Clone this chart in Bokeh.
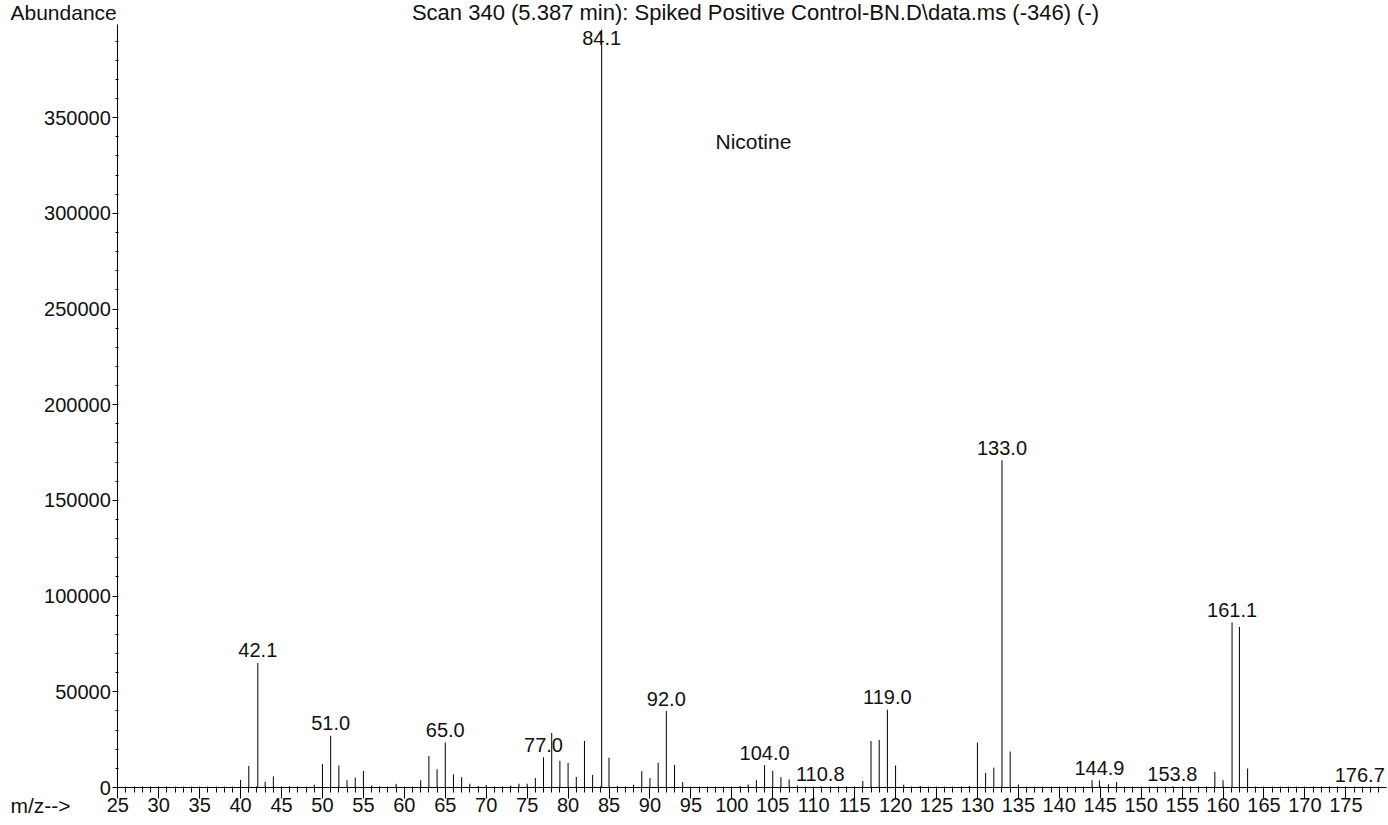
import numpy as np
from bokeh.plotting import figure
from bokeh.models import (ColumnDataSource, SingleIntervalTicker, Label, Range1d,
                          BasicTickFormatter, LinearAxis)
from bokeh.core.properties import value
from bokeh.embed import file_html
from bokeh.resources import INLINE

# ---------------- data ----------------
mz = [40, 41, 42.1, 43, 44, 46, 49, 50, 51.0, 52, 53, 54, 55, 56, 57, 59,
      62, 63, 64, 65.0, 66, 67, 68, 69, 70, 73, 74, 75, 76, 77.0, 78, 79, 80,
      81, 82, 83, 84.1, 85, 86, 88, 89, 90, 91, 92.0, 93, 94, 101, 102, 103,
      104.0, 105, 106, 107, 108, 110.8, 116, 117, 118, 119.0, 120, 121, 123,
      129, 130, 131, 132, 133.0, 134, 135, 144, 144.9, 146, 147, 153.8, 159,
      160, 161.1, 162, 163, 176.7]
abundance = [4000, 11300, 65100, 3000, 5800, 600, 1500, 12200, 27000, 11500,
             3800, 5200, 8700, 1000, 500, 1900, 3800, 16500, 9600, 23500, 6900,
             5400, 2000, 700, 1300, 1000, 2000, 2000, 5000, 15800, 28500, 14000,
             12800, 5500, 24300, 6600, 396000, 15600, 700, 1500, 8500, 4900,
             12900, 40000, 11800, 2800, 800, 1600, 3800, 11700, 8700, 5400, 4200,
             1000, 500, 3400, 24300, 24900, 40700, 11500, 1500, 700, 800, 23500,
             7600, 10400, 171000, 18800, 1600, 3800, 3700, 1700, 2900, 500, 8200,
             3800, 86200, 83900, 9900, 300]
labeled_mz = [42.1, 51.0, 65.0, 77.0, 84.1, 92.0, 104.0, 110.8, 119.0, 133.0,
              144.9, 153.8, 161.1, 176.7]
title_text = "Scan 340 (5.387 min): Spiked Positive Control-BN.D\\data.ms (-346) (-)"
compound_name = "Nicotine"
y_title = "Abundance"
x_title = "m/z-->"
x_axis_bounds = (25, 179.99)
y_axis_top = 398700

# ---------------- layout (pixel <-> data helpers) ----------------
W, H = 1388, 825
PX_X0, PX_PER_X = 117.3, 8.187        # pixel of m/z 25, pixels per m/z unit
PX_Y0, PX_PER_Y = 787.0, 95.7 / 50000  # pixel of 0 abundance, pixels per count
BASE_FIX = 8                           # baseline correction (px)


def dx(px):
    return 25 + (px - PX_X0) / PX_PER_X


def dy(py):
    return (PX_Y0 - py) / PX_PER_Y


def dyt(py):  # y for a text whose baseline should sit at pixel py
    return dy(py - BASE_FIX)


FONT = "Liberation Sans"
FS = "20px"
TXT = "#111111"

p = figure(width=W, height=H, x_range=Range1d(dx(0), dx(W)),
           y_range=Range1d(dy(H), dy(0)), output_backend="svg",
           toolbar_location=None, title=None, x_axis_location=None,
           y_axis_location=None, min_border=0)
p.min_border_left = p.min_border_right = p.min_border_top = p.min_border_bottom = 0
p.outline_line_color = None
p.xgrid.visible = False
p.ygrid.visible = False
p.background_fill_color = "white"
p.border_fill_color = "white"

xax = LinearAxis(fixed_location=0, bounds=x_axis_bounds,
                 ticker=SingleIntervalTicker(interval=5, num_minor_ticks=5))
yax = LinearAxis(fixed_location=25, bounds=(0, y_axis_top),
                 ticker=SingleIntervalTicker(interval=50000, num_minor_ticks=5),
                 formatter=BasicTickFormatter(use_scientific=False))
for ax in (xax, yax):
    ax.axis_line_color = "black"
    ax.major_tick_line_color = "black"
    ax.minor_tick_line_color = "black"
    ax.major_label_text_font = FONT
    ax.major_label_text_font_size = FS
    ax.major_label_text_color = TXT
xax.major_tick_out = 11
xax.major_tick_in = 0
xax.minor_tick_out = 5
xax.minor_tick_in = 1
xax.major_label_standoff = -1
yax.major_tick_out = 5
yax.major_tick_in = 0
yax.minor_tick_out = 2
yax.minor_tick_in = 1
yax.major_label_standoff = 2
p.add_layout(xax, "below")
p.add_layout(yax, "left")

# sticks
src = ColumnDataSource(dict(mz=mz, ab=abundance))
p.segment(x0="mz", y0=0, x1="mz", y1="ab", source=src,
          line_color="black", line_width=1)

# peak labels (baseline 4.4 px above the stick, kept below the axis top)
lut = dict(zip(mz, abundance))
lab_y = []
for m in labeled_mz:
    top_px = PX_Y0 - lut[m] * PX_PER_Y
    base_px = max(top_px - 4.4, 24 + 21)
    lab_y.append(dyt(base_px))
lab_src = ColumnDataSource(dict(x=labeled_mz, y=lab_y,
                                t=[f"{m:.1f}" for m in labeled_mz]))
p.text(x="x", y="y", text="t", source=lab_src, text_align="center",
       text_baseline="alphabetic", text_font=value(FONT), text_font_size=FS,
       text_color=TXT)

# free texts
p.add_layout(Label(x=dx(715), y=dyt(149), text=compound_name,
                   text_font=FONT, text_font_size="21px", text_color=TXT,
                   text_align="left", text_baseline="alphabetic"))
p.add_layout(Label(x=dx(10), y=dyt(20), text=y_title,
                   text_font=FONT, text_font_size="21px", text_color=TXT,
                   text_align="left", text_baseline="alphabetic"))
p.add_layout(Label(x=dx(755), y=dyt(20), text=title_text,
                   text_font=FONT, text_font_size="22px", text_color=TXT,
                   text_align="center", text_baseline="alphabetic"))
p.add_layout(Label(x=dx(10), y=dyt(813), text=x_title,
                   text_font=FONT, text_font_size="21px", text_color=TXT,
                   text_align="left", text_baseline="alphabetic"))

open("out.html", "w").write(file_html(p, INLINE))
